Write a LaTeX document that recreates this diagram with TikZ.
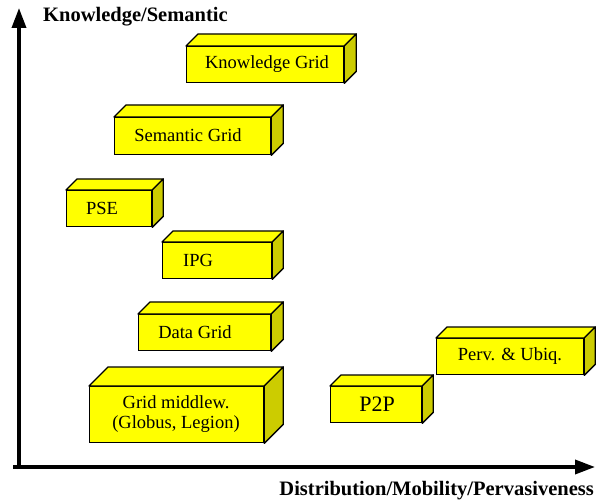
\documentclass[tikz,border=0pt]{standalone}
\usepackage{fontspec}
\setmainfont{Liberation Serif}
\usetikzlibrary{calc,arrows.meta}
\definecolor{boxyellow}{RGB}{255,255,0}
\definecolor{sideyellow}{RGB}{204,204,0}
\tikzset{
  front/.style={draw=black, line width=1.3pt, fill=boxyellow, inner sep=0pt, anchor=north west},
  face/.style={draw=black, line width=1.3pt, line join=round},
  lab/.style={font=\fontsize{18.5}{20}\selectfont, inner sep=0pt, align=center},
  axis/.style={line width=3.6pt, -{Triangle[width=14pt,length=20pt]}},
  axlab/.style={font=\fontsize{20.5}{22}\selectfont\bfseries, inner sep=0pt}
}
% name, x1, y1, x2, y2, depth
\newcommand\cuboid[6]{%
  \node[front, minimum width={(#4-#2)*1pt}, minimum height={(#5-#3)*1pt}] (#1) at (#2,#3) {};
  \draw[face, fill=boxyellow] (#1.north west) -- ++(#6,-#6) -- ($(#1.north east)+(#6,-#6)$) -- (#1.north east) -- cycle;
  \draw[face, fill=sideyellow] (#1.north east) -- ++(#6,-#6) -- ($(#1.south east)+(#6,-#6)$) -- (#1.south east) -- cycle;
}
\begin{document}
\begin{tikzpicture}[x=1pt, y=-1pt]
  \useasboundingbox (0,0) rectangle (599,502);
  % axes
  \coordinate (origin) at (19,469);
  \coordinate (ytip) at (19,8);
  \coordinate (xstart) at (13,467);
  \coordinate (xtip) at (595,467);
  \draw[axis] (origin) -- (ytip);
  \draw[axis] (xstart) -- (xtip);
  \node[axlab, anchor=west] (ylab) at (43,17) {Knowledge/Semantic};
  \node[axlab, anchor=east] (xlab) at (594,491) {Distribution/Mobility/Pervasiveness};
  % boxes
  \cuboid{kg}{186}{46}{343}{82}{12}
  \cuboid{sg}{114}{117}{270}{154}{12}
  \cuboid{pse}{66}{190}{151}{226}{11}
  \cuboid{ipg}{162}{242}{271}{278}{11}
  \cuboid{dg}{138}{314}{270}{350}{12}
  \cuboid{gm}{89}{386}{263}{442}{19}
  \cuboid{p2p}{330}{386}{421}{422}{11}
  \cuboid{pu}{436}{338}{583}{374}{11}
  % labels
  \node[lab] (kgt) at (267,64) {Knowledge Grid};
  \node[lab] (sgt) at (188,135) {Semantic Grid};
  \node[lab] (pset) at (102,208) {PSE};
  \node[lab] (ipgt) at (198,260) {IPG};
  \node[lab] (dgt) at (195,332) {Data Grid};
  \node[lab] (gmt) at (176,414) {Grid middlew.\\(Globus, Legion)};
  \node[lab, font=\fontsize{22}{24}\selectfont] (p2pt) at (377,404) {P2P};
  \node[lab] (put) at (510,356) {Perv. \& Ubiq.};
\end{tikzpicture}
\end{document}
